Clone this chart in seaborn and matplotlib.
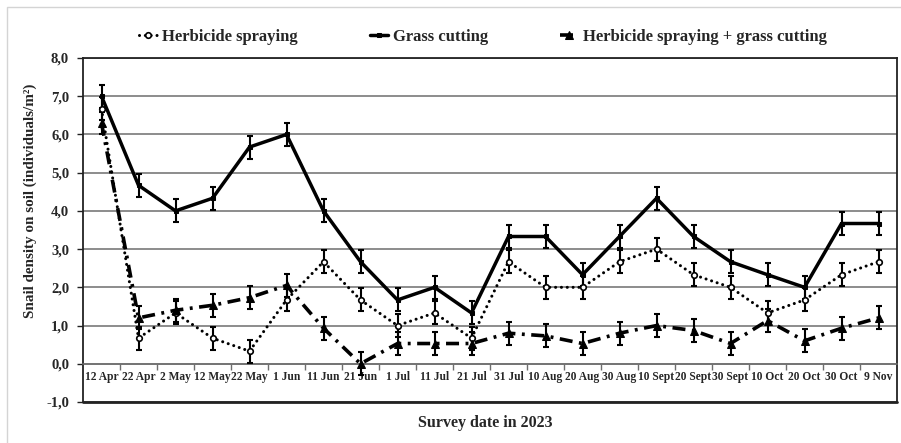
import numpy as np
import pandas as pd
import matplotlib
matplotlib.use("Agg")
import matplotlib.pyplot as plt
from matplotlib.patches import Rectangle
import seaborn as sns

# Survey dates (categorical x axis)
dates = ["12 Apr", "22 Apr", "2 May", "12 May", "22 May", "1 Jun", "11 Jun",
         "21 Jun", "1 Jul", "11 Jul", "21 Jul", "31 Jul", "10 Aug", "20 Aug",
         "30 Aug", "10 Sept", "20 Sept", "30 Sept", "10 Oct", "20 Oct",
         "30 Oct", "9 Nov"]

# Mean snail density (individuals/m²) per treatment
herbicide = [6.67, 0.67, 1.33, 0.67, 0.33, 1.67, 2.67, 1.67, 1.00, 1.33, 0.67,
             2.67, 2.00, 2.00, 2.67, 3.00, 2.33, 2.00, 1.33, 1.67, 2.33, 2.67]
grass = [7.00, 4.67, 4.00, 4.33, 5.67, 6.00, 4.00, 2.67, 1.67, 2.00, 1.33,
         3.33, 3.33, 2.33, 3.33, 4.33, 3.33, 2.67, 2.33, 2.00, 3.67, 3.67]
combined = [6.30, 1.20, 1.40, 1.53, 1.73, 2.05, 0.93, 0.00, 0.53, 0.53, 0.53,
            0.80, 0.73, 0.53, 0.80, 1.00, 0.87, 0.53, 1.13, 0.60, 0.93, 1.20]

# Error bar half-lengths
herbicide_err = [0.3, 0.3, 0.3, 0.3, 0.3, 0.3, 0.3, 0.3, 0.3, 0.3, 0.3,
                 0.3, 0.3, 0.3, 0.3, 0.3, 0.3, 0.3, 0.3, 0.3, 0.3, 0.3]
grass_err = [0.3, 0.3, 0.3, 0.3, 0.3, 0.3, 0.3, 0.3, 0.3, 0.3, 0.3,
             0.3, 0.3, 0.3, 0.3, 0.3, 0.3, 0.3, 0.3, 0.3, 0.3, 0.3]
combined_err = [0.3, 0.3, 0.3, 0.3, 0.3, 0.3, 0.3, 0.3, 0.3, 0.3, 0.3,
                0.3, 0.3, 0.3, 0.3, 0.3, 0.3, 0.3, 0.3, 0.3, 0.3, 0.3]

series_names = ["Herbicide spraying", "Grass cutting",
                "Herbicide spraying + grass cutting"]

y_ticks = [-1, 0, 1, 2, 3, 4, 5, 6, 7, 8]

sns.set_style("white")
plt.rcParams["font.family"] = ["Liberation Serif", "DejaVu Serif"]
plt.rcParams["font.weight"] = "bold"

W, H = 901, 443
fig = plt.figure(figsize=(W / 100, H / 100), dpi=100)
fig.patch.set_facecolor("white")

# light frame around the figure
fig.patches.append(Rectangle((7 / W, -0.2), 1.5, 1 - 7 / H + 0.2,
                             transform=fig.transFigure, fill=False,
                             edgecolor="#d4d4d4", lw=1.0))

ax = fig.add_axes([83 / W, 1 - 402 / H, (897 - 83) / W, (402 - 58) / H])

x = np.arange(len(dates))
df = pd.DataFrame({"x": x, "herbicide": herbicide, "grass": grass,
                   "combined": combined})

styles = {
    "herbicide": dict(color="black", lw=2.2, linestyle=(0, (0.01, 1.9)),
                      marker="o", markersize=4,
                      markerfacecolor="white", markeredgecolor="black",
                      markeredgewidth=1.2),
    "grass": dict(color="black", lw=2.5, linestyle="-", marker="s",
                  markersize=3.5, markerfacecolor="black",
                  markeredgecolor="black"),
    "combined": dict(color="black", lw=2.6, linestyle=(0, (3.6, 1.8, 0.8, 1.8)),
                     marker="^", markersize=6, markerfacecolor="black",
                     markeredgecolor="black"),
}
errs = {"herbicide": herbicide_err, "grass": grass_err,
        "combined": combined_err}

for key, name in zip(["herbicide", "grass", "combined"], series_names):
    ax.errorbar(df["x"], df[key], yerr=errs[key], fmt="none", ecolor="black",
                elinewidth=1.5, capsize=2, capthick=1.5, zorder=3)
    sns.lineplot(data=df, x="x", y=key, ax=ax, label=name, zorder=4,
                 **styles[key])
    if key == "herbicide":
        ax.lines[-1].set_dash_capstyle("round")

handles, labels = ax.get_legend_handles_labels()
ax.get_legend().remove()
for h in handles:
    if h.get_label() == series_names[0]:
        h.set_dash_capstyle("round")

# axes limits, grid, spines
ax.set_xlim(-0.5, len(dates) - 0.5)
ax.set_ylim(-1, 8)
ax.set_yticks(y_ticks)
ax.set_yticklabels([f"{v:.1f}".replace(".", ",") for v in y_ticks],
                   fontsize=10.5, fontweight="bold")
ax.yaxis.grid(True, color="#6e6e6e", lw=1.1)
ax.xaxis.grid(False)
ax.set_axisbelow(True)

for side in ["left", "right", "top"]:
    ax.spines[side].set_visible(True)
    ax.spines[side].set_color("#222222")
    ax.spines[side].set_linewidth(1.3)
ax.spines["bottom"].set_position(("data", 0))
ax.spines["bottom"].set_color("#6e6e6e")
ax.spines["bottom"].set_linewidth(1.1)
ax.axhline(-1, color="#222222", lw=2.0, clip_on=False, zorder=5)

# category boundary ticks on the zero line, labels at category centres
ax.set_xticks(np.arange(0.5, len(dates) - 1, 1.0))
ax.set_xticklabels([])
ax.tick_params(axis="x", which="major", direction="out", length=4,
               width=1.0, color="#6e6e6e", bottom=True)
ax.set_xticks(x, minor=True)
ax.set_xticklabels(dates, minor=True, fontsize=8.3, fontweight="bold")
ax.tick_params(axis="x", which="minor", length=0, pad=5)
ax.tick_params(axis="y", direction="out", length=4, width=1.0,
               color="#222222", left=True, pad=6)

ax.set_xlabel("")
ax.set_ylabel("")

fig.text(30 / W, 1 - 201 / H, "Snail density on soil (individuals/m²)",
         rotation=90, ha="center", va="center", fontsize=10.9,
         fontweight="bold")
fig.text(485 / W, 1 - 423 / H, "Survey date in 2023", ha="center",
         va="center", fontsize=11.5, fontweight="bold")

fig.legend(handles, labels, loc="center", bbox_to_anchor=(483 / W, 1 - 37 / H),
           ncol=3, frameon=False, prop={"size": 12, "weight": "bold"},
           handlelength=1.1, handletextpad=0.3, columnspacing=4.3)

fig.savefig("out.png", dpi=100)
